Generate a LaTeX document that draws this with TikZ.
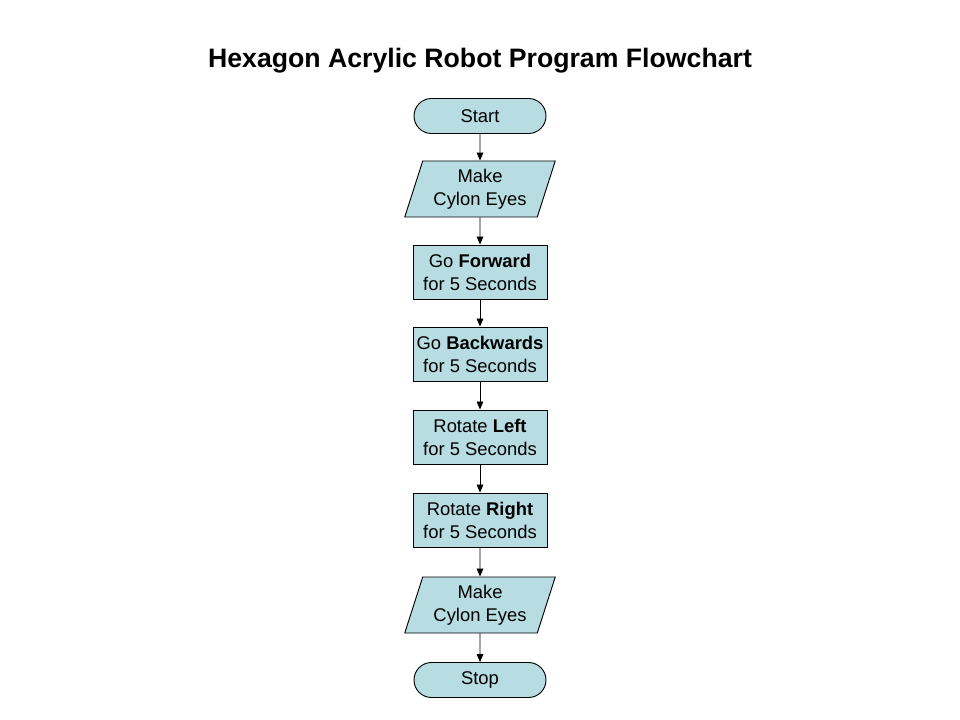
\documentclass[tikz,border=0pt]{standalone}
\usepackage{fontspec}
\setmainfont{Liberation Sans}
\usetikzlibrary{shapes.geometric,shapes.misc,arrows.meta}
\definecolor{boxfill}{RGB}{183,221,226}
\begin{document}
\begin{tikzpicture}[x=0.75pt,y=-0.75pt,
  base/.style={draw=black,line width=0.7pt,fill=boxfill,align=center,
    font=\fontsize{13.8pt}{17.2pt}\selectfont,inner sep=0pt},
  term/.style={base,rounded rectangle,minimum width=99pt,minimum height=26.25pt},
  proc/.style={base,rectangle,minimum width=100.5pt,minimum height=40.5pt},
  io/.style={base,trapezium,trapezium left angle=70,trapezium right angle=110,
    trapezium stretches=true,minimum width=113pt,minimum height=42pt},
  conn/.style={draw=black,line width=0.6pt,-{Triangle[length=6pt,width=5pt]}}]
\useasboundingbox (0,0) rectangle (960,720);
\fill[white] (0,0) rectangle (960,720);
\node[font=\fontsize{20pt}{24pt}\selectfont\bfseries] (title) at (480,61) {Hexagon Acrylic Robot Program Flowchart};
\node[term] (start) at (480,116) {Start};
\node[io] (eyes1) at (480,189) {Make\\ Cylon Eyes};
\node[proc] (fwd) at (480,272) {Go \textbf{Forward}\\for 5 Seconds};
\node[proc] (back) at (480,354) {Go \textbf{Backwards}\\for 5 Seconds};
\node[proc] (left) at (480,437) {Rotate \textbf{Left}\\for 5 Seconds};
\node[proc] (right) at (480,520) {Rotate \textbf{Right}\\for 5 Seconds};
\node[io] (eyes2) at (480,605) {Make\\ Cylon Eyes};
\node[term] (stop) at (480,680) {Stop};
\draw[conn] (start) -- (eyes1);
\draw[conn] (eyes1) -- (fwd);
\draw[conn] (fwd) -- (back);
\draw[conn] (back) -- (left);
\draw[conn] (left) -- (right);
\draw[conn] (right) -- (eyes2);
\draw[conn] (eyes2) -- (stop);
\end{tikzpicture}
\end{document}
